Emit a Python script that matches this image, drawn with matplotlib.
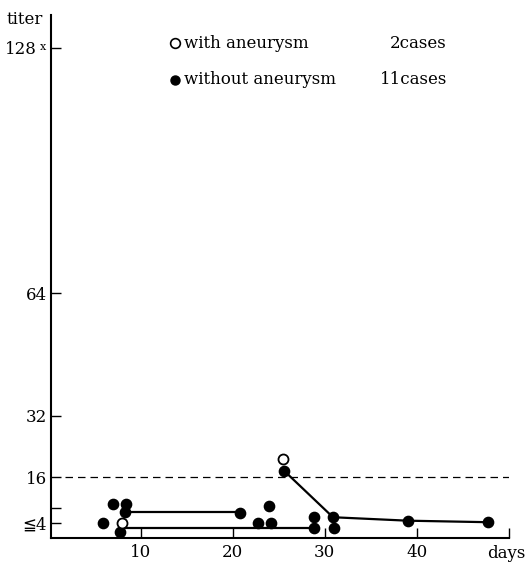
import matplotlib
matplotlib.use('Agg')
import matplotlib.pyplot as plt
import matplotlib.transforms as mtransforms

plt.rcParams['font.family'] = ['DejaVu Serif', 'DejaVu Sans']

# data (days, titer)
filled_days = [5.9, 7.0, 8.4, 8.3, 7.8, 20.8, 22.7, 23.9, 24.2, 25.6, 28.8, 28.8, 30.9, 31.0, 39.0, 47.8]
filled_titer = [4.1, 9.0, 9.0, 6.9, 1.7, 6.7, 4.1, 8.4, 4.1, 17.6, 5.5, 2.6, 5.5, 2.6, 4.6, 4.2]
open_days = [8.0, 25.5]
open_titer = [4.1, 20.6]

upper_days = [8.3, 20.8]
upper_titer = [6.8, 6.8]
lower_days = [8.3, 28.8]
lower_titer = [2.6, 2.6]
decline_days = [25.6, 30.9, 39.0, 47.8]
decline_titer = [17.6, 5.5, 4.6, 4.2]

ytick_vals = [4, 8, 16, 32, 64, 128]
ytick_labels = ['≦4', '', '16', '32', '64', '128']
xtick_vals = [10, 20, 30, 40, 50]
xtick_labels = ['10', '20', '30', '40', '']
cutoff = 16

fig = plt.figure(figsize=(5.29, 5.65), dpi=100)
ax = fig.add_axes([51/529, 26.7/565, 457.7/529, 523.3/565])
ax.set_xlim(0.25, 50)
ax.set_ylim(0, 136.6)

ax.spines['top'].set_visible(False)
ax.spines['right'].set_visible(False)
for s in ['left', 'bottom']:
    ax.spines[s].set_linewidth(1.5)

ax.hlines(cutoff, 1.8, 50, colors='black', linewidth=0.9, linestyles=(0, (6, 4)))

lw = 1.6
ax.plot(upper_days, upper_titer, color='black', lw=lw)
ax.plot(lower_days, lower_titer, color='black', lw=lw)
ax.plot(decline_days, decline_titer, color='black', lw=lw)

ax.plot(filled_days, filled_titer, 'o', color='black', ms=7.4, zorder=3)
ax.plot(open_days, open_titer, 'o', mfc='white', mec='black', mew=1.3, ms=7.2, zorder=4)

ax.set_yticks(ytick_vals)
ax.set_yticklabels(ytick_labels)
ax.set_xticks(xtick_vals)
ax.set_xticklabels(xtick_labels)
ax.tick_params(axis='both', direction='in', length=7, width=1, labelsize=12)
ax.tick_params(axis='y', pad=3)
ax.tick_params(axis='x', pad=4)

# move "128" left to leave room for the small "x"
shift = mtransforms.ScaledTranslation(-10/100, 0, fig.dpi_scale_trans)
lab128 = ax.get_yticklabels()[-1]
lab128.set_transform(lab128.get_transform() + shift)
ax.text(-0.017, 128.3, 'x', transform=ax.get_yaxis_transform(), fontsize=8,
        ha='center', va='center')

fig.text(25/529, 1 - 19/565, 'titer', fontsize=12, ha='center', va='center')
fig.text(506/529, 1 - 554/565, 'days', fontsize=12, ha='center', va='center')

# legend
ax.plot([175/529], [1 - 43/565], 'o', mfc='white', mec='black', mew=1.2, ms=7,
        transform=fig.transFigure, clip_on=False)
ax.plot([175/529], [1 - 80/565], 'o', color='black', ms=6.5,
        transform=fig.transFigure, clip_on=False)
fig.text(184/529, 1 - 43/565, 'with aneurysm', fontsize=12, va='center')
fig.text(184/529, 1 - 80/565, 'without aneurysm', fontsize=12, va='center')
fig.text(447/529, 1 - 43/565, '2cases', fontsize=12, va='center', ha='right')
fig.text(447/529, 1 - 80/565, '11cases', fontsize=12, va='center', ha='right')

fig.savefig('out.png', dpi=100)
